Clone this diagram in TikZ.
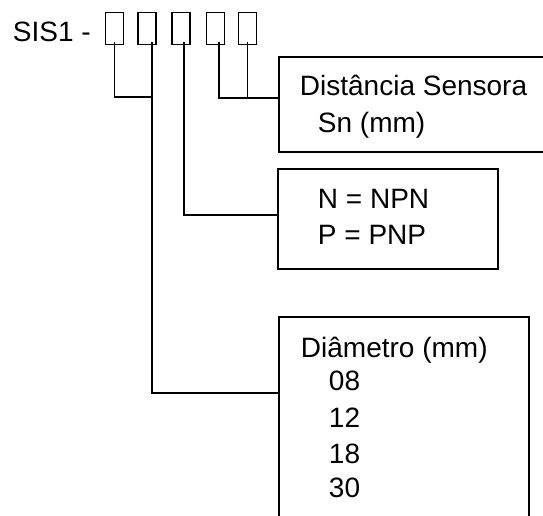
\documentclass[tikz,border=0pt]{standalone}
\usepackage{fontspec}
\setmainfont{Liberation Sans}
\begin{document}
\begin{tikzpicture}[x=1pt,y=-1pt,line width=1.9pt]
      \tikzstyle{digit}=[draw,minimum width=18pt,minimum height=32pt,inner sep=0pt]
      \tikzstyle{infobox}=[draw,anchor=north west,inner sep=0pt]
      \tikzstyle{txt}=[anchor=base west,inner sep=0pt,font=\fontsize{28}{36}\selectfont]
      \useasboundingbox (0,0) rectangle (543,516);

      \node[txt] (sis) at (12,42) {SIS1 -};
      \node[digit] (d1) at (114.5,28.5) {};
      \node[digit] (d2) at (147,28.5) {};
      \node[digit] (d3) at (181,28.5) {};
      \node[digit] (d4) at (215.5,28.5) {};
      \node[digit] (d5) at (247.5,28.5) {};

      \node[infobox,minimum width=280pt,minimum height=95pt] (dist) at (278,56) {};
      \node[infobox,minimum width=220pt,minimum height=100pt] (npn) at (277,168) {};
      \node[infobox,minimum width=250pt,minimum height=220pt] (diam) at (278,316) {};

      \node[txt] (distA) at (299,96) {Distância Sensora};
      \node[txt] (distB) at (317,132) {Sn (mm)};
      \node[txt] (npnA) at (317,208) {N = NPN};
      \node[txt] (npnB) at (317,244) {P = PNP};
      \node[txt] (diamA) at (300,357) {Diâmetro (mm)};
      \node[txt] (diamB) at (328,390) {08};
      \node[txt] (diamC) at (328,427) {12};
      \node[txt] (diamD) at (328,463) {18};
      \node[txt] (diamE) at (328,497) {30};

      \coordinate (j2) at ([xshift=5pt]d2.south |- 0,97);
      \coordinate (j5) at (d5.south |- 0,97.5);
      \draw ([yshift=3pt]d1.south) |- (j2);
      \draw ([xshift=5pt,yshift=3pt]d2.south) |- ([yshift=-77pt]diam.north west);
      \draw ([xshift=3pt,yshift=3pt]d3.south) |- ([yshift=4pt]npn.west);
      \draw ([xshift=3.5pt,yshift=3pt]d4.south) |- ([yshift=6pt]dist.west);
      \draw ([yshift=3pt]d5.south) -- (j5);
\end{tikzpicture}
\end{document}
